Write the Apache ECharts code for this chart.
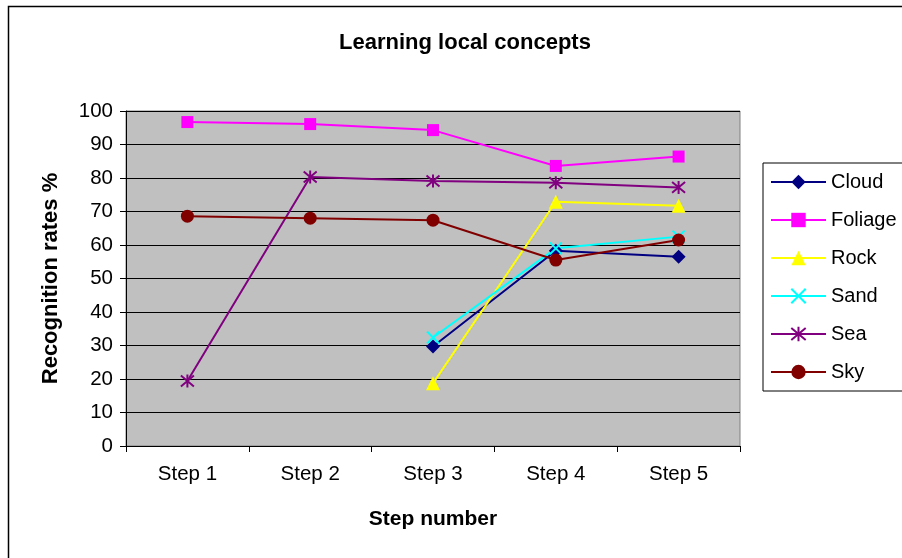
<!DOCTYPE html>
<html>
<head>
<meta charset="utf-8">
<script src="https://cdn.jsdelivr.net/npm/echarts@6/dist/echarts.min.js"></script>
<style>html,body{margin:0;padding:0;background:#fff;}#c{width:902px;height:558px;}</style>
</head>
<body>
<div id="c"></div>
<script>
var categories = ['Step 1', 'Step 2', 'Step 3', 'Step 4', 'Step 5'];
var cloud   = [null, null, 29.7, 58.3, 56.5];
var foliage = [96.7, 96.1, 94.3, 83.6, 86.4];
var rock    = [null, null, 18.7, 72.9, 71.7];
var sand    = [null, null, 32.4, 59.0, 62.5];
var sea     = [19.4, 80.3, 79.1, 78.6, 77.2];
var sky     = [68.6, 68.0, 67.4, 55.5, 61.5];
var yTicks  = [0, 10, 20, 30, 40, 50, 60, 70, 80, 90, 100];

var FONT = '"Liberation Sans", Arial, sans-serif';
var xPath = 'path://M0,0L10,10M10,0L0,10';
var starPath = 'path://M5,0L5,10M0.8,0.8L9.2,9.2M9.2,0.8L0.8,9.2';

function mk(name, data, color, symbol, size, stroke) {
  return {
    name: name, type: 'line', data: data,
    symbol: symbol, symbolSize: size, showSymbol: true,
    connectNulls: false,
    lineStyle: { color: color, width: 2 },
    itemStyle: stroke ? { color: color, borderColor: color, borderWidth: 2 } : { color: color, borderWidth: 0 },
    emphasis: { disabled: true },
    animation: false
  };
}

var chart = echarts.init(document.getElementById('c'), null, { renderer: 'canvas' });
chart.setOption({
  animation: false,
  backgroundColor: '#ffffff',
  textStyle: { fontFamily: FONT },
  title: {
    text: 'Learning local concepts',
    left: 460, top: 27, textAlign: 'center',
    textStyle: { fontFamily: FONT, fontWeight: 'bold', fontSize: 22, color: '#000' }
  },
  graphic: [{
    type: 'rect', left: 6, top: 4, silent: true,
    shape: { x: 0, y: 0, width: 1000, height: 1000 },
    style: { fill: 'none', stroke: '#000', lineWidth: 1.5 }
  }],
  legend: {
    orient: 'vertical', left: 763, top: 163,
    backgroundColor: '#fff', borderColor: '#000', borderWidth: 1,
    padding: [9, 20, 9, 7],
    itemWidth: 55, itemHeight: 18, itemGap: 18,
    textStyle: { fontFamily: FONT, fontSize: 20, color: '#000' },
    data: ['Cloud', 'Foliage', 'Rock', 'Sand', 'Sea', 'Sky']
  },
  grid: {
    left: 126, right: 162, top: 111, bottom: 112,
    show: true, backgroundColor: '#c0c0c0', borderColor: '#808080', borderWidth: 1
  },
  xAxis: {
    type: 'category', data: categories, boundaryGap: true,
    name: 'Step number', nameLocation: 'middle', nameGap: 63,
    nameTextStyle: { fontFamily: FONT, fontWeight: 'bold', fontSize: 21, color: '#000' },
    axisLine: { show: true, lineStyle: { color: '#000', width: 1 } },
    axisTick: { show: true, length: 6, alignWithLabel: false, lineStyle: { color: '#000' } },
    axisLabel: { margin: 18, fontFamily: FONT, fontSize: 20.5, color: '#000' },
    splitLine: { show: false }
  },
  yAxis: {
    type: 'value', min: 0, max: 100, interval: 10,
    name: 'Recognition rates %', nameLocation: 'middle', nameGap: 64, nameRotate: 90,
    nameTextStyle: { fontFamily: FONT, fontWeight: 'bold', fontSize: 22, color: '#000' },
    axisLine: { show: true, lineStyle: { color: '#000', width: 1 } },
    axisTick: { show: true, length: 6, lineStyle: { color: '#000' } },
    axisLabel: { margin: 13, fontFamily: FONT, fontSize: 20.5, color: '#000',
      formatter: function (v) { return yTicks.indexOf(v) >= 0 ? String(v) : ''; } },
    splitLine: { show: true, lineStyle: { color: '#000', width: 1 } }
  },
  series: [
    mk('Cloud', cloud, '#000080', 'diamond', 14, false),
    mk('Foliage', foliage, '#ff00ff', 'rect', 12, false),
    mk('Rock', rock, '#ffff00', 'triangle', 14, false),
    mk('Sand', sand, '#00ffff', xPath, 12, true),
    mk('Sea', sea, '#800080', starPath, 13, true),
    mk('Sky', sky, '#800000', 'circle', 13, false)
  ]
});
</script>
</body>
</html>
